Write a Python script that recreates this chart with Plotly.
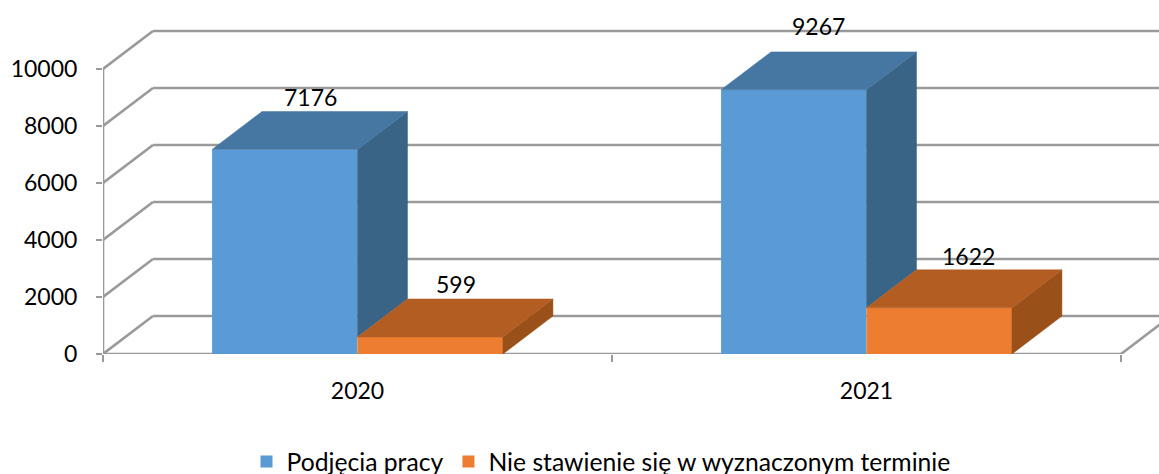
import plotly.graph_objects as go

categories = ["2020", "2021"]
category_pos = [0.5, 1.5]
series_names = ["Podjęcia pracy", "Nie stawienie się w wyznaczonym terminie"]
hired = [7176, 9267]
no_show = [599, 1622]
y_ticks = [0, 2000, 4000, 6000, 8000, 10000]

FRONT = ["#5B9BD5", "#ED7D31"]
TOP = ["#4676A2", "#B35D22"]
SIDE = ["#3A6486", "#9A5119"]
GRID = "#9A9A9A"
FONT = "Lato"
FS = 23

W, H = 1159, 474
L, R_END, BASE, TOP_PX, Y10K = 102.5, 1121.0, 354.5, 31.0, 69.0
PLOT_TOP = 27.0
px_x = (R_END - L) / 2
px_y = (BASE - Y10K) / 10000
DX = 50 / px_x
DY = (BASE - TOP_PX) / px_y - 10000
XMAX = (W - L) / px_x
YMAX = (BASE - PLOT_TOP) / px_y
BAR_W = 1 / 3.5

fig = go.Figure()

shapes = []
def seg(x0, y0, x1, y1):
    shapes.append(dict(type="line", xref="x", yref="y", layer="below", x0=x0, y0=y0, x1=x1, y1=y1,
                       line=dict(color=GRID, width=2.6)))
for v in y_ticks:
    seg(0, v, DX, v + DY)
    seg(DX, v + DY, XMAX + DX, v + DY)
seg(0, 0, 0, 10000)
seg(0, 0, 2, 0)
seg(2, 0, 2 + DX, DY)

for i, (name, vals) in enumerate(zip(series_names, [hired, no_show])):
    fig.add_trace(go.Bar(name=name, x=category_pos, y=vals, marker=dict(color=FRONT[i], line=dict(width=0)),
                         hoverinfo="name+y"))

def poly(xs, ys, color):
    fig.add_trace(go.Scatter(x=xs, y=ys, mode="lines", fill="toself", fillcolor=color,
                             line=dict(color=color, width=0.5), showlegend=False, hoverinfo="skip",
                             cliponaxis=False))

for c, a, b in zip(category_pos, hired, no_show):
    poly([c, c + DX, c + DX, c, c], [a, a + DY, b + DY, b, a], SIDE[0])
    poly([c - BAR_W, c - BAR_W + DX, c + DX, c, c - BAR_W], [a, a + DY, a + DY, a, a], TOP[0])
    r = c + BAR_W
    poly([r, r + DX, r + DX, r, r], [b, b + DY, DY, 0, b], SIDE[1])
    poly([c, c + DX, r + DX, r, c], [b, b + DY, b + DY, b, b], TOP[1])

annotations = []
label_nudges = [[(1, 3), (1, 3)], [(0, 14), (4, 2)]]
for j, c in enumerate(category_pos):
    for s, (vals, off) in enumerate(zip([hired, no_show], [-BAR_W / 2, BAR_W / 2])):
        xs, ys = label_nudges[j][s]
        annotations.append(dict(x=c + off + DX / 2, y=vals[j] + DY, xref="x", yref="y", text=str(vals[j]),
                                showarrow=False, yanchor="bottom", xshift=xs, yshift=ys - 4,
                                font=dict(family=FONT, size=FS, color="#000000")))

fig.update_layout(
    width=W, height=H, autosize=False,
    margin=dict(l=L, r=0, t=PLOT_TOP, b=H - BASE, pad=0, autoexpand=False),
    paper_bgcolor="white", plot_bgcolor="white",
    barmode="group", bargap=1.5 / 3.5, bargroupgap=0,
    font=dict(family=FONT, size=FS, color="#000000"),
    shapes=shapes, annotations=annotations,
    showlegend=True,
    legend=dict(orientation="h", xref="container", yref="container", x=601 / W, xanchor="center",
                y=1 - 462 / H, yanchor="middle", itemwidth=30, traceorder="normal",
                font=dict(family=FONT, size=24.7, color="#000000"), bgcolor="rgba(0,0,0,0)"),
    xaxis=dict(range=[0, XMAX], tickmode="array", tickvals=category_pos, ticktext=categories,
               ticks="outside", ticklen=0, tickwidth=0, showgrid=False, zeroline=False, showline=False,
               ticklabelstandoff=16, automargin=False,
               minor=dict(tickmode="array", tickvals=[0, 1, 2], ticks="outside", ticklen=7, tickwidth=1.5,
                          tickcolor=GRID, showgrid=False)),
    yaxis=dict(range=[0, YMAX], tickmode="array", tickvals=y_ticks, ticktext=[str(v) for v in y_ticks],
               ticks="outside", ticklen=6, tickwidth=1.5, tickcolor=GRID, showgrid=False, zeroline=False,
               showline=False, ticklabelstandoff=14, automargin=False),
)
fig.write_html("out.html", config=dict(displayModeBar=False), post_script="document.body.style.margin='0';")
